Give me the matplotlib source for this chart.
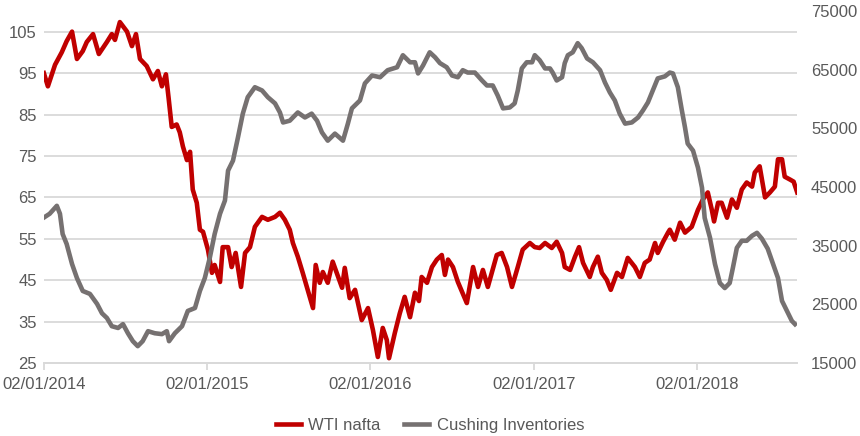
import matplotlib
matplotlib.use("Agg")
import matplotlib.pyplot as plt
import pandas as pd
import numpy as np

plt.rcParams["font.family"] = ["Liberation Sans", "DejaVu Sans"]

# WTI crude price (USD/bbl)
wti_dates = [
    "2014-01-02", "2014-01-11", "2014-01-27", "2014-02-11", "2014-02-22", "2014-03-06",
    "2014-03-17", "2014-03-30", "2014-04-08", "2014-04-22", "2014-05-05", "2014-05-23",
    "2014-06-03", "2014-06-10", "2014-06-21", "2014-07-07", "2014-07-18", "2014-07-27",
    "2014-08-05", "2014-08-20", "2014-09-03", "2014-09-14", "2014-09-23", "2014-10-02",
    "2014-10-08", "2014-10-15", "2014-10-26", "2014-11-02", "2014-11-09", "2014-11-18",
    "2014-11-25", "2014-12-01", "2014-12-10", "2014-12-17", "2014-12-24", "2015-01-04",
    "2015-01-13", "2015-01-19", "2015-01-31", "2015-02-06", "2015-02-18", "2015-02-26",
    "2015-03-07", "2015-03-19", "2015-03-28", "2015-04-08", "2015-04-19", "2015-05-05",
    "2015-05-18", "2015-06-03", "2015-06-14", "2015-06-25", "2015-07-06", "2015-07-13",
    "2015-07-24", "2015-08-04", "2015-08-15", "2015-08-27", "2015-09-02", "2015-09-11",
    "2015-09-18", "2015-09-29", "2015-10-10", "2015-10-19", "2015-10-31", "2015-11-06",
    "2015-11-17", "2015-11-29", "2015-12-14", "2015-12-28", "2016-01-08", "2016-01-19",
    "2016-01-30", "2016-02-08", "2016-02-13", "2016-02-26", "2016-03-08", "2016-03-19",
    "2016-03-31", "2016-04-11", "2016-04-20", "2016-04-26", "2016-05-08", "2016-05-19",
    "2016-05-30", "2016-06-10", "2016-06-17", "2016-06-24", "2016-07-05", "2016-07-16",
    "2016-08-05", "2016-08-19", "2016-08-30", "2016-09-10", "2016-09-21", "2016-10-11",
    "2016-10-22", "2016-11-03", "2016-11-14", "2016-11-27", "2016-12-08", "2016-12-24",
    "2017-01-04", "2017-01-15", "2017-01-27", "2017-02-11", "2017-02-22", "2017-03-06",
    "2017-03-12", "2017-03-24", "2017-04-04", "2017-04-13", "2017-04-22", "2017-05-07",
    "2017-05-14", "2017-05-25", "2017-06-03", "2017-06-14", "2017-06-23", "2017-07-07",
    "2017-07-18", "2017-07-31", "2017-08-16", "2017-08-27", "2017-09-07", "2017-09-18",
    "2017-09-30", "2017-10-06", "2017-10-18", "2017-10-29", "2017-11-02", "2017-11-13",
    "2017-11-25", "2017-12-06", "2017-12-21", "2018-01-04", "2018-01-15", "2018-01-26",
    "2018-02-04", "2018-02-09", "2018-02-18", "2018-02-26", "2018-03-10", "2018-03-21",
    "2018-04-01", "2018-04-12", "2018-04-23", "2018-05-05", "2018-05-11", "2018-05-22",
    "2018-06-03", "2018-06-14", "2018-06-25", "2018-07-02", "2018-07-11", "2018-07-17",
    "2018-07-29", "2018-08-06", "2018-08-14",
]
wti_values = [
    95.0, 91.8, 97.0, 100.0, 102.7, 105.0,
    98.4, 100.3, 102.5, 104.4, 99.6, 102.5,
    104.4, 103.0, 107.3, 105.0, 101.5, 104.4,
    98.4, 96.7, 93.5, 95.5, 91.8, 94.7,
    89.0, 82.0, 82.6, 80.7, 77.3, 74.0,
    76.0, 66.9, 63.7, 57.2, 56.7, 52.4,
    46.8, 48.7, 44.6, 53.0, 53.0, 48.2,
    51.6, 43.4, 51.6, 53.0, 57.9, 60.3,
    59.6, 60.3, 61.3, 59.6, 57.2, 54.0,
    50.7, 46.8, 42.7, 38.3, 48.7, 44.4,
    47.0, 44.4, 49.5, 46.8, 43.2, 48.0,
    40.7, 42.7, 35.4, 38.3, 33.0, 26.5,
    33.5, 30.6, 26.2, 32.3, 37.0, 41.0,
    36.1, 42.0, 40.0, 45.8, 44.4, 48.2,
    50.0, 51.1, 46.3, 50.0, 48.2, 44.6,
    39.5, 48.2, 43.4, 47.5, 43.4, 51.1,
    51.6, 48.2, 43.4, 48.2, 52.4, 54.0,
    53.0, 52.8, 54.0, 52.8, 54.3, 51.6,
    48.2, 47.5, 50.7, 53.0, 49.2, 45.8,
    48.2, 50.7, 46.8, 45.1, 42.7, 46.8,
    45.8, 50.4, 48.2, 45.8, 49.2, 50.0,
    54.0, 51.6, 54.3, 56.5, 57.2, 54.8,
    58.9, 56.5, 57.9, 62.0, 64.5, 66.2,
    62.0, 59.2, 63.7, 63.7, 60.1, 64.5,
    62.5, 66.9, 68.6, 67.6, 71.0, 72.5,
    65.0, 66.2, 67.6, 74.2, 74.2, 70.0,
    69.3, 68.8, 66.2,
]

# Cushing crude inventories (thousand bbl)
cushing_dates = [
    "2014-01-02", "2014-01-15", "2014-01-31", "2014-02-07", "2014-02-13", "2014-02-22",
    "2014-03-06", "2014-03-17", "2014-03-30", "2014-04-15", "2014-05-01", "2014-05-12",
    "2014-05-23", "2014-06-03", "2014-06-17", "2014-06-28", "2014-07-09", "2014-07-20",
    "2014-07-31", "2014-08-11", "2014-08-23", "2014-09-07", "2014-09-23", "2014-10-04",
    "2014-10-09", "2014-10-22", "2014-11-07", "2014-11-20", "2014-12-06", "2014-12-17",
    "2014-12-28", "2015-01-08", "2015-01-19", "2015-01-31", "2015-02-11", "2015-02-18",
    "2015-03-01", "2015-03-12", "2015-03-23", "2015-04-03", "2015-04-19", "2015-05-05",
    "2015-05-18", "2015-06-03", "2015-06-14", "2015-06-21", "2015-07-06", "2015-07-24",
    "2015-08-09", "2015-08-24", "2015-09-05", "2015-09-16", "2015-09-29", "2015-10-15",
    "2015-11-02", "2015-11-13", "2015-11-22", "2015-12-10", "2015-12-21", "2016-01-06",
    "2016-01-24", "2016-02-10", "2016-03-02", "2016-03-15", "2016-03-31", "2016-04-11",
    "2016-04-18", "2016-04-29", "2016-05-14", "2016-05-26", "2016-06-06", "2016-06-21",
    "2016-07-03", "2016-07-16", "2016-07-27", "2016-08-07", "2016-08-23", "2016-09-08",
    "2016-09-19", "2016-10-02", "2016-10-13", "2016-10-25", "2016-11-09", "2016-11-20",
    "2016-11-27", "2016-12-06", "2016-12-17", "2016-12-29", "2017-01-04", "2017-01-15",
    "2017-01-27", "2017-02-07", "2017-02-13", "2017-02-22", "2017-03-06", "2017-03-12",
    "2017-03-19", "2017-03-30", "2017-04-10", "2017-04-19", "2017-05-01", "2017-05-14",
    "2017-05-30", "2017-06-10", "2017-06-21", "2017-07-02", "2017-07-13", "2017-07-25",
    "2017-08-09", "2017-08-23", "2017-09-03", "2017-09-14", "2017-09-25", "2017-10-06",
    "2017-10-22", "2017-11-02", "2017-11-09", "2017-11-20", "2017-11-29", "2017-12-06",
    "2017-12-12", "2017-12-24", "2018-01-04", "2018-01-13", "2018-01-19", "2018-01-31",
    "2018-02-11", "2018-02-22", "2018-03-05", "2018-03-16", "2018-03-23", "2018-04-01",
    "2018-04-12", "2018-04-23", "2018-05-05", "2018-05-16", "2018-05-27", "2018-06-09",
    "2018-06-21", "2018-07-02", "2018-07-11", "2018-07-22", "2018-08-02", "2018-08-09",
]
cushing_values = [
    39800, 40450, 41800, 40450, 37000, 35300,
    31900, 29500, 27300, 26800, 25100, 23500,
    22700, 21300, 21000, 21650, 20100, 18750,
    17900, 18750, 20450, 20100, 19950, 20450,
    18750, 20100, 21300, 23900, 24400, 27300,
    29500, 32900, 37000, 40450, 42700, 47800,
    49500, 53400, 57500, 60300, 62000, 61450,
    60300, 59250, 57700, 56000, 56300, 57700,
    56850, 57500, 56300, 54300, 52900, 54100,
    52900, 55800, 58400, 59750, 62650, 64000,
    63700, 64900, 65400, 67450, 66250, 66250,
    64350, 65700, 67950, 67100, 66100, 65400,
    64000, 63700, 64900, 64500, 64500, 63150,
    62300, 62300, 60600, 58400, 58550, 59250,
    61450, 65200, 66250, 66250, 67450, 66600,
    65200, 65200, 64500, 63150, 63700, 66100,
    67450, 67950, 69500, 68650, 66900, 66250,
    64900, 62800, 61100, 59750, 57500, 55800,
    56000, 56850, 58050, 59400, 61450, 63500,
    63850, 64500, 64350, 62000, 58050, 55150,
    52400, 51200, 48300, 44900, 39750, 36350,
    31900, 28650, 27800, 28650, 31200, 34650,
    35850, 35850, 36700, 37200, 36200, 34500,
    31900, 29500, 25600, 23900, 22200, 21650,
]

tick_dates = ["2014-01-02", "2015-01-02", "2016-01-02", "2017-01-02", "2018-01-02"]
tick_labels = ["02/01/2014", "02/01/2015", "02/01/2016", "02/01/2017", "02/01/2018"]

red = "#C00000"
grey = "#767171"
txt = "#595959"
grid = "#D9D9D9"

fig = plt.figure(figsize=(8.6, 4.36), dpi=100)
ax = fig.add_axes([0.051, 0.167, 0.876, 0.808])
ax2 = ax.twinx()

l1, = ax.plot(pd.to_datetime(wti_dates), wti_values, color=red, lw=3.3,
              solid_joinstyle="round", label="WTI nafta")
l2, = ax2.plot(pd.to_datetime(cushing_dates), cushing_values, color=grey, lw=3.3,
               solid_joinstyle="round", label="Cushing Inventories")

ax.set_xlim(pd.Timestamp("2014-01-02"), pd.Timestamp("2018-08-14"))
ax.set_ylim(25, 110)
ax.set_yticks(np.arange(25, 106, 10))
ax2.set_ylim(15000, 75000)
ax2.set_yticks(np.arange(15000, 75001, 10000))

ax.set_xticks(pd.to_datetime(tick_dates))
ax.set_xticklabels(tick_labels)

ax.yaxis.grid(True, color=grid, lw=1.3)
ax.set_axisbelow(True)
for a in (ax, ax2):
    for s in ("left", "right", "top"):
        a.spines[s].set_visible(False)
    a.spines["bottom"].set_color(grid)
    a.spines["bottom"].set_linewidth(1.3)

ax.tick_params(axis="y", length=0, pad=5, labelsize=12, labelcolor=txt)
ax2.tick_params(axis="y", length=0, pad=10, labelsize=12, labelcolor=txt)
ax.tick_params(axis="x", length=5, width=1.3, color=grid, pad=5,
               labelsize=12, labelcolor=txt)

fig.legend(handles=[l1, l2], loc="center", bbox_to_anchor=(0.5, 0.025),
           ncol=2, frameon=False, fontsize=12, labelcolor=txt,
           handlelength=1.5, columnspacing=1.4, handletextpad=0.45)

fig.savefig("out.png", dpi=100)
